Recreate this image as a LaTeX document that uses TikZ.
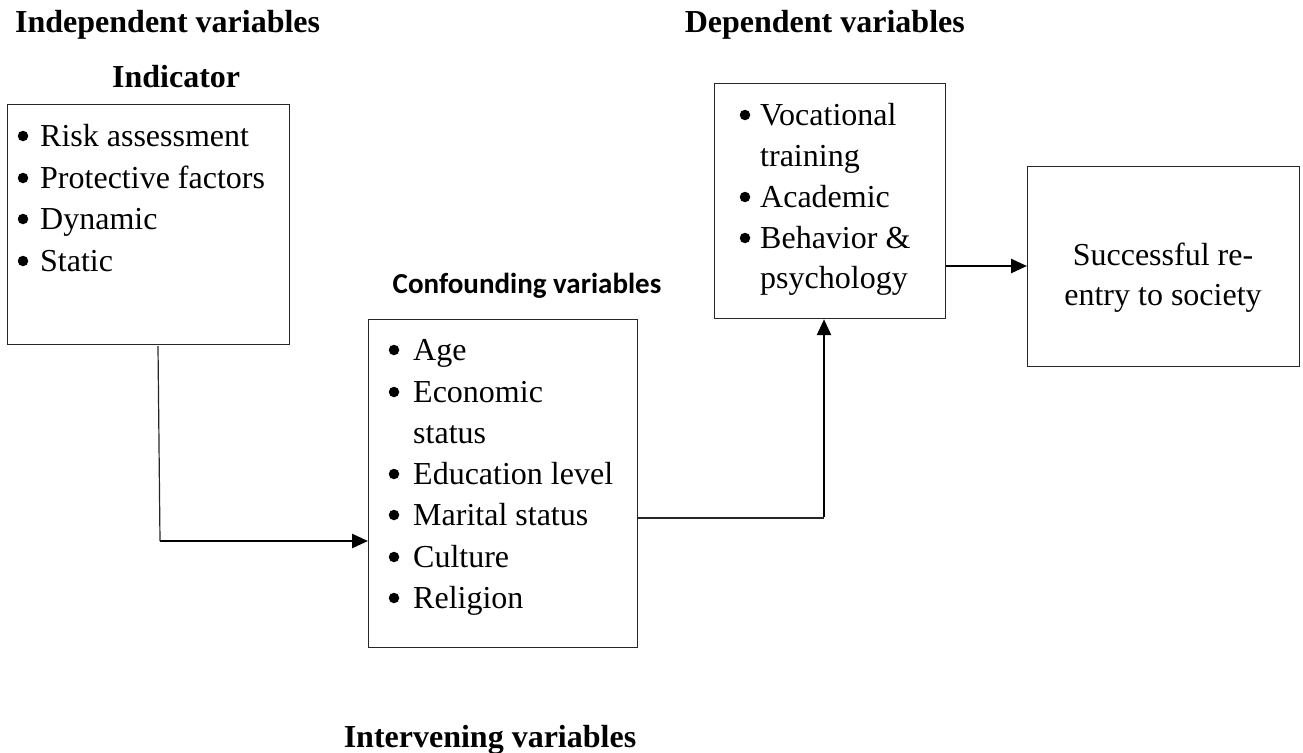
\documentclass[tikz,border=0pt]{standalone}
\usepackage{fontspec}
\setmainfont{Liberation Serif}
\newfontfamily\carlitofont{Carlito}
\usetikzlibrary{arrows.meta,calc}
\tikzset{
  box/.style={draw=black!85, line width=1.2pt, anchor=north west, inner sep=0pt},
  thinline/.style={draw=black!85, line width=1.2pt},
  boldarrow/.style={draw=black, line width=2.6pt, -{Triangle[length=16pt,width=14pt]}},
  txt/.style={anchor=base west, inner sep=0pt, font=\fontsize{32}{40}\selectfont},
  ctr/.style={anchor=base, inner sep=0pt, font=\fontsize{32}{40}\selectfont},
  head/.style={anchor=base west, inner sep=0pt, font=\fontsize{32}{40}\selectfont\bfseries},
  bul/.style={circle, fill=black, draw=none, inner sep=0pt, minimum size=10.5pt}
}
\begin{document}
\begin{tikzpicture}[x=1pt,y=-1pt]
\useasboundingbox (0,0) rectangle (1303,752);
% headings
\node[head] (h1) at (15,33) {Independent variables};
\node[head, anchor=base east] (h2) at (965,33) {Dependent variables};
\node[head] (h3) at (112,88) {Indicator};
\node[anchor=base, inner sep=0pt, font=\fontsize{29}{34}\selectfont\carlitofont\bfseries] (h4) at (527,293) {Confounding variables};
\node[anchor=base, inner sep=0pt, font=\fontsize{32}{40}\selectfont\bfseries] (h5) at (490,747) {Intervening variables};
% boxes
\node[box, minimum width=282pt, minimum height=240pt] (ind) at (7,104) {};
\node[box, minimum width=269pt, minimum height=328pt] (conf) at (368,319) {};
\node[box, minimum width=231pt, minimum height=235pt] (dep) at (714,83) {};
\node[box, minimum width=272pt, minimum height=200pt] (succ) at (1027,166) {};
% indicator items
\node[bul] (ib1) at (23,136) {};
\node[txt] (it1) at (40,146) {Risk assessment};
\node[bul] (ib2) at (23,178) {};
\node[txt] (it2) at (40,188) {Protective factors};
\node[bul] (ib3) at (23,219) {};
\node[txt] (it3) at (40,229) {Dynamic};
\node[bul] (ib4) at (23,261) {};
\node[txt] (it4) at (40,271) {Static};
% confounding items
\node[bul] (cb1) at (394,350) {};
\node[txt] (ct1) at (413,360) {Age};
\node[bul] (cb2) at (394,392) {};
\node[txt] (ct2) at (413,402) {Economic};
\node[txt] (ct2b) at (413,443) {status};
\node[bul] (cb3) at (394,474) {};
\node[txt] (ct3) at (413,484) {Education level};
\node[bul] (cb4) at (394,515) {};
\node[txt] (ct4) at (413,525) {Marital status};
\node[bul] (cb5) at (394,557) {};
\node[txt] (ct5) at (413,567) {Culture};
\node[bul] (cb6) at (394,598) {};
\node[txt] (ct6) at (413,608) {Religion};
% dependent items
\node[bul] (db1) at (745,115) {};
\node[txt] (dt1) at (760,125) {Vocational};
\node[txt] (dt1b) at (760,166) {training};
\node[bul] (db2) at (745,197) {};
\node[txt] (dt2) at (760,207) {Academic};
\node[bul] (db3) at (745,238) {};
\node[txt] (dt3) at (760,248) {Behavior \&};
\node[txt] (dt3b) at (760,288) {psychology};
% outcome text
\node[ctr] (st1) at (1163,265) {Successful re-};
\node[ctr] (st2) at (1163,305) {entry to society};
% connectors
\coordinate (a1) at (158,346);
\coordinate (a2) at (160,541);
\draw[thinline] (a1) -- (a2);
\draw[boldarrow] (a2) -- (a2 -| conf.west);
\coordinate (b1) at (824,518);
\draw[thinline] (b1 -| conf.east) -- (b1);
\draw[boldarrow] ([yshift=0.6pt]b1) -- (b1 |- dep.south);
\coordinate (c1) at (985,266);
\draw[boldarrow] (c1 -| dep.east) -- (c1 -| succ.west);
\end{tikzpicture}
\end{document}
